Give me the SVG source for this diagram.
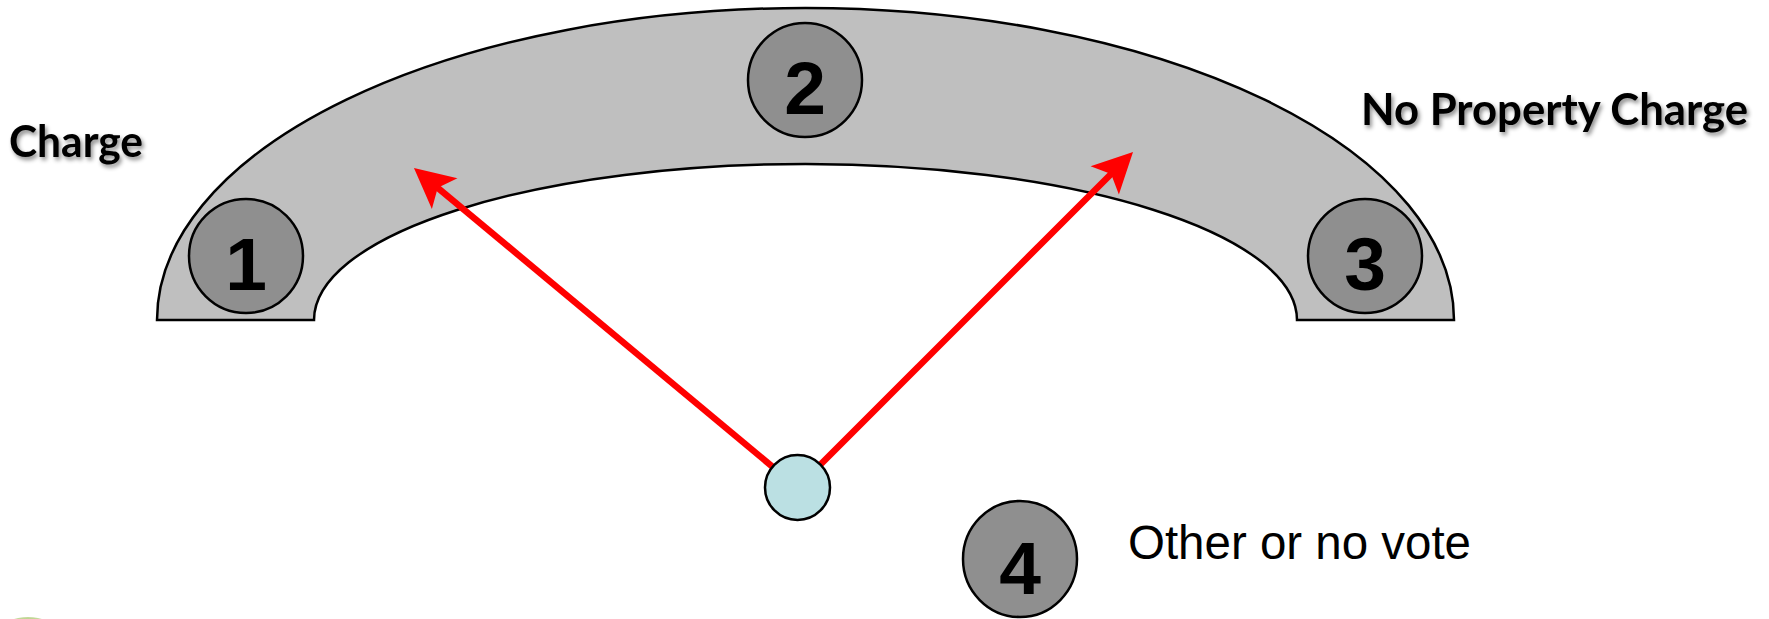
<svg xmlns="http://www.w3.org/2000/svg" width="1769" height="619" viewBox="0 0 1769 619">
  <style>
    .num-circle { fill: #8f8f8f; stroke: #000; stroke-width: 2.5; }
    .num { font-family: "Liberation Sans", Arial, sans-serif; font-weight: bold; font-size: 75px; fill: #000; text-anchor: middle; }
    .label-bold { font-family: Lato, "Open Sans", sans-serif; font-weight: bold; font-size: 44px; fill: #000; filter: url(#shadow); }
    .label { font-family: "Liberation Sans", Arial, sans-serif; font-size: 48px; fill: #000; }
    .arrow { stroke: #ff0000; stroke-width: 6.5; fill: none; marker-end: url(#stealth); }
  </style>
  <defs>
    <marker id="stealth" markerUnits="userSpaceOnUse" viewBox="-42 -22 44 44" markerWidth="44" markerHeight="44" refX="-30" refY="0" orient="auto">
      <path d="M0,0 L-40,-20 L-31,0 L-40,20 Z" fill="#ff0000"/>
    </marker>
    <filter id="shadow" x="-10%" y="-20%" width="130%" height="160%">
      <feDropShadow dx="2" dy="3" stdDeviation="2" flood-color="#000" flood-opacity="0.45"/>
    </filter>
    <radialGradient id="green" cx="0.5" cy="0.5" r="0.5">
      <stop offset="0" stop-color="#6f9a2a"/>
      <stop offset="1" stop-color="#c8dca0"/>
    </radialGradient>
  </defs>
  <rect width="1769" height="619" fill="#fff"/>

  <g id="arch">
    <path d="M157,320 A648.5,312 0 0 1 1454,320 L1297,320 A491.5,156 0 0 0 314,320 Z" fill="#bfbfbf" stroke="#000" stroke-width="2.5"/>
  </g>

  <g id="connectors">
    <line class="arrow" x1="772.5" y1="466.7" x2="437" y2="187.2"/>
    <line class="arrow" x1="820.5" y1="464.5" x2="1111.8" y2="173.2"/>
  </g>

  <g id="node-1">
    <circle class="num-circle" cx="246" cy="256" r="57"/>
    <text class="num" x="246" y="290">1</text>
  </g>
  <g id="node-2">
    <circle class="num-circle" cx="805" cy="80" r="57"/>
    <text class="num" x="805" y="114">2</text>
  </g>
  <g id="node-3">
    <circle class="num-circle" cx="1365" cy="256" r="57"/>
    <text class="num" x="1365" y="290">3</text>
  </g>
  <g id="node-4">
    <ellipse class="num-circle" cx="1020" cy="559" rx="57" ry="58"/>
    <text class="num" x="1020" y="594">4</text>
  </g>
  <g id="voter">
    <circle cx="797.5" cy="487.5" r="32.5" fill="#bbe0e3" stroke="#000" stroke-width="2.5"/>
  </g>

  <g id="label-charge">
    <text class="label-bold" x="9" y="157" textLength="134" lengthAdjust="spacingAndGlyphs">Charge</text>
  </g>
  <g id="label-no-property-charge">
    <text class="label-bold" x="1361" y="125" textLength="387" lengthAdjust="spacingAndGlyphs">No Property Charge</text>
  </g>
  <g id="label-other">
    <text class="label" x="1128" y="559" textLength="343" lengthAdjust="spacingAndGlyphs">Other or no vote</text>
  </g>

  <ellipse cx="28" cy="630" rx="26" ry="13" fill="url(#green)"/>
</svg>
